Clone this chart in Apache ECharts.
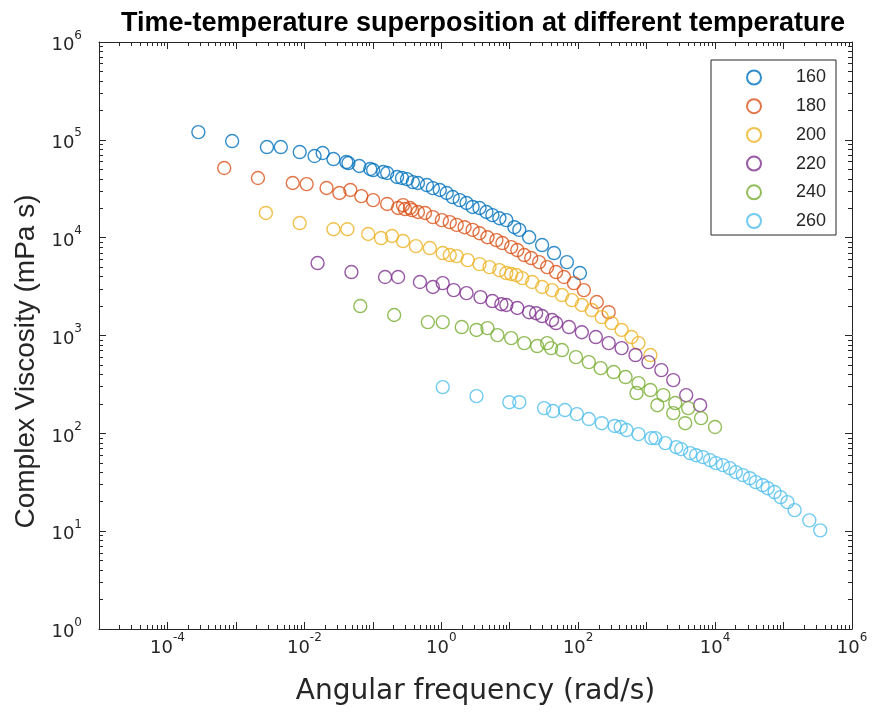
<!DOCTYPE html>
<html>
<head>
<meta charset="utf-8">
<script src="https://cdn.jsdelivr.net/npm/echarts@6.0.0/dist/echarts.min.js"></script>
<style>
html,body{margin:0;padding:0;background:#fff;}
#chart{width:875px;height:717px;}
</style>
</head>
<body>
<div id="chart"></div>
<script>
// ---- data (angular frequency in rad/s, complex viscosity in mPa s) ----
const seriesNames = ['160', '180', '200', '220', '240', '260'];
const colors = ['#0072BD', '#D95319', '#EDB120', '#7E2F8E', '#77AC30', '#4DBEEE'];

const w160 = [2.83e-4, 8.81e-4, 2.84e-3, 4.53e-3, 8.55e-3, 0.0141, 0.0185, 0.0266, 0.0411, 0.0440, 0.0635, 0.0917, 0.101, 0.142, 0.162, 0.226, 0.267, 0.316, 0.385, 0.456, 0.617, 0.754, 0.951, 1.20, 1.47, 1.86, 2.34, 2.87, 3.62, 4.57, 5.58, 7.06, 8.93, 11.7, 13.8, 19.2, 29.7, 44.4, 68.5, 106];
const eta160 = [1.20e5, 9.72e4, 8.44e4, 8.44e4, 7.50e4, 6.83e4, 7.33e4, 6.36e4, 5.93e4, 5.79e4, 5.40e4, 5.03e4, 4.91e4, 4.69e4, 4.58e4, 4.17e4, 4.07e4, 3.97e4, 3.70e4, 3.62e4, 3.45e4, 3.21e4, 3.07e4, 2.86e4, 2.60e4, 2.42e4, 2.26e4, 2.06e4, 2.01e4, 1.83e4, 1.70e4, 1.58e4, 1.51e4, 1.28e4, 1.20e4, 1.01e4, 8.40e3, 6.96e3, 5.63e3, 4.35e3];

const w180 = [6.75e-4, 2.10e-3, 6.76e-3, 0.0108, 0.0211, 0.0325, 0.0470, 0.0679, 0.101, 0.162, 0.234, 0.276, 0.295, 0.349, 0.373, 0.456, 0.577, 0.754, 1.02, 1.33, 1.68, 2.19, 2.87, 3.62, 4.73, 6.39, 7.81, 10.5, 12.9, 16.3, 20.6, 26.9, 35.2, 47.5, 62.0, 86.7, 121, 187, 279];
const eta180 = [5.15e4, 4.07e4, 3.62e4, 3.53e4, 3.22e4, 2.86e4, 3.07e4, 2.66e4, 2.42e4, 2.21e4, 2.01e4, 2.15e4, 1.96e4, 2.01e4, 1.91e4, 1.83e4, 1.79e4, 1.62e4, 1.51e4, 1.44e4, 1.35e4, 1.28e4, 1.20e4, 1.11e4, 1.01e4, 9.44e3, 8.81e3, 8.01e3, 7.47e3, 6.64e3, 6.19e3, 5.63e3, 5.00e3, 4.45e3, 3.96e3, 3.43e3, 2.91e3, 2.20e3, 1.73e3];

const w200 = [2.74e-3, 8.55e-3, 0.0266, 0.0425, 0.0857, 0.132, 0.191, 0.276, 0.427, 0.681, 1.05, 1.33, 1.68, 2.43, 3.62, 5.06, 7.06, 8.93, 10.5, 12.5, 15.2, 21.3, 29.7, 41.5, 58.0, 81.1, 113, 158, 221, 308, 431, 601, 760, 1135];
const eta200 = [1.79e4, 1.41e4, 1.22e4, 1.22e4, 1.09e4, 9.91e3, 1.04e4, 9.23e3, 8.20e3, 7.83e3, 6.96e3, 6.64e3, 6.48e3, 5.90e3, 5.37e3, 5.00e3, 4.66e3, 4.35e3, 4.25e3, 4.15e3, 3.86e3, 3.52e3, 3.13e3, 2.91e3, 2.59e3, 2.30e3, 2.05e3, 1.82e3, 1.54e3, 1.34e3, 1.14e3, 964, 836, 631];

const w220 = [0.0156, 0.0487, 0.151, 0.234, 0.488, 0.754, 1.05, 1.52, 2.34, 3.74, 5.58, 7.55, 8.93, 12.9, 19.2, 24.3, 29.7, 41.5, 47.5, 73.3, 113, 181, 279, 431, 687, 1062, 1641, 2449, 3784, 6039];
const eta220 = [5.50e3, 4.45e3, 3.96e3, 3.96e3, 3.52e3, 3.13e3, 3.43e3, 2.91e3, 2.71e3, 2.47e3, 2.25e3, 2.09e3, 2.05e3, 1.91e3, 1.73e3, 1.69e3, 1.58e3, 1.44e3, 1.34e3, 1.22e3, 1.08e3, 964, 836, 743, 631, 535, 443, 350, 246, 194];

const w240 = [0.0656, 0.205, 0.637, 1.05, 1.99, 3.27, 4.73, 6.61, 10.5, 16.3, 25.2, 35.2, 40.2, 58.0, 92.7, 143, 213, 330, 492, 760, 711, 1135, 1754, 2618, 1435, 2449, 4046, 3656, 6237, 9977];
const eta240 = [2.00e3, 1.62e3, 1.37e3, 1.37e3, 1.22e3, 1.14e3, 1.19e3, 1.01e3, 940, 836, 780, 836, 743, 710, 601, 535, 464, 423, 376, 326, 258, 277, 246, 204, 194, 161, 181, 127, 143, 116];

const w260 = [1.05, 3.27, 9.86, 13.8, 31.8, 42.9, 64.1, 95.7, 143, 221, 341, 417, 509, 760, 1175, 1342, 1875, 2710, 3199, 4324, 5279, 6668, 8433, 1.03e4, 1.30e4, 1.64e4, 2.01e4, 2.54e4, 3.21e4, 3.93e4, 4.95e4, 5.86e4, 7.40e4, 9.04e4, 1.14e5, 1.45e5, 2.38e5, 3.44e5];
const eta260 = [297, 240, 208, 208, 181, 169, 173, 157, 140, 127, 119, 116, 108, 98.2, 89.3, 89.3, 79.4, 72.3, 68.9, 62.8, 59.8, 57.1, 53.2, 49.6, 47.3, 44.1, 40.1, 37.4, 34.8, 31.7, 29.5, 27.5, 25.1, 22.3, 19.8, 16.4, 12.9, 10.2];

// ---- axis ticks ----
const xMajorTicks = [1e-5, 1e-4, 1e-3, 1e-2, 1e-1, 1, 1e1, 1e2, 1e3, 1e4, 1e5, 1e6];
const xTickLabels = [1e-4, 1e-2, 1, 1e2, 1e4, 1e6];
const yMajorTicks = [1, 1e1, 1e2, 1e3, 1e4, 1e5, 1e6];
const yTickLabels = [1, 1e1, 1e2, 1e3, 1e4, 1e5, 1e6];
const minorMultipliers = [2, 3, 4, 5, 6, 7, 8, 9];

function minorTicks(majors) {
  const out = [];
  for (let i = 0; i < majors.length - 1; i++) {
    minorMultipliers.forEach(function (m) { out.push(majors[i] * m); });
  }
  return out;
}
const xMinorTicks = minorTicks(xMajorTicks);
const yMinorTicks = minorTicks(yMajorTicks);

const FONT = 'Liberation Sans, Arial, Helvetica, sans-serif';
const WIDEFONT = 'DejaVu Sans, Liberation Sans, sans-serif';
const AXC = '#262626';

function powLabel(v) {
  const e = Math.round(Math.log10(v));
  return '{b|10}{s|' + e + '}';
}
const richPow = {
  b: { fontSize: 18, fontFamily: WIDEFONT, color: AXC, verticalAlign: 'bottom', lineHeight: 25 },
  s: { fontSize: 12, fontFamily: WIDEFONT, color: AXC, verticalAlign: 'top', lineHeight: 25 }
};

function baseAxis(extra) {
  return Object.assign({
    type: 'log', logBase: 10,
    splitLine: { show: false },
    minorTick: { show: false },
    minorSplitLine: { show: false }
  }, extra);
}

const xAxes = [
  baseAxis({
    min: 1e-5, max: 1e6, position: 'bottom', gridIndex: 0,
    axisLine: { show: true, onZero: false, lineStyle: { color: AXC, width: 1 } },
    axisTick: { show: true, inside: true, length: 7, customValues: xMajorTicks, lineStyle: { color: AXC, width: 1 } },
    axisLabel: { show: true, customValues: xTickLabels, formatter: powLabel, rich: richPow, margin: 3 },
    name: 'Angular frequency (rad/s)', nameLocation: 'middle', nameGap: 49,
    nameTextStyle: { fontSize: 28, color: AXC, fontFamily: WIDEFONT }
  }),
  baseAxis({
    min: 1e-5, max: 1e6, position: 'bottom', gridIndex: 0,
    axisLine: { show: false },
    axisTick: { show: true, inside: true, length: 4, customValues: xMinorTicks, lineStyle: { color: AXC, width: 1 } },
    axisLabel: { show: false }
  }),
  baseAxis({
    min: 1e-5, max: 1e6, position: 'top', gridIndex: 0,
    axisLine: { show: true, onZero: false, lineStyle: { color: AXC, width: 1 } },
    axisTick: { show: true, inside: true, length: 7, customValues: xMajorTicks, lineStyle: { color: AXC, width: 1 } },
    axisLabel: { show: false }
  }),
  baseAxis({
    min: 1e-5, max: 1e6, position: 'top', gridIndex: 0,
    axisLine: { show: false },
    axisTick: { show: true, inside: true, length: 4, customValues: xMinorTicks, lineStyle: { color: AXC, width: 1 } },
    axisLabel: { show: false }
  })
];

const yAxes = [
  baseAxis({
    min: 1, max: 1e6, position: 'left', gridIndex: 0,
    axisLine: { show: true, onZero: false, lineStyle: { color: AXC, width: 1 } },
    axisTick: { show: true, inside: true, length: 7, customValues: yMajorTicks, lineStyle: { color: AXC, width: 1 } },
    axisLabel: { show: true, customValues: yTickLabels, formatter: powLabel, rich: richPow, margin: 17 },
    name: 'Complex Viscosity (mPa s)', nameLocation: 'middle', nameGap: 52,
    nameTextStyle: { fontSize: 28, color: AXC, fontFamily: FONT, padding: [0, 52, 0, 0] }
  }),
  baseAxis({
    min: 1, max: 1e6, position: 'left', gridIndex: 0,
    axisLine: { show: false },
    axisTick: { show: true, inside: true, length: 4, customValues: yMinorTicks, lineStyle: { color: AXC, width: 1 } },
    axisLabel: { show: false }
  }),
  baseAxis({
    min: 1, max: 1e6, position: 'right', gridIndex: 0,
    axisLine: { show: true, onZero: false, lineStyle: { color: AXC, width: 1 } },
    axisTick: { show: true, inside: true, length: 7, customValues: yMajorTicks, lineStyle: { color: AXC, width: 1 } },
    axisLabel: { show: false }
  }),
  baseAxis({
    min: 1, max: 1e6, position: 'right', gridIndex: 0,
    axisLine: { show: false },
    axisTick: { show: true, inside: true, length: 4, customValues: yMinorTicks, lineStyle: { color: AXC, width: 1 } },
    axisLabel: { show: false }
  })
];

const xs = [w160, w180, w200, w220, w240, w260];
const ys = [eta160, eta180, eta200, eta220, eta240, eta260];

const series = seriesNames.map(function (name, i) {
  return {
    name: name,
    type: 'scatter',
    xAxisIndex: 0,
    yAxisIndex: 0,
    symbol: 'circle',
    symbolSize: 13,
    itemStyle: { color: 'rgba(255,255,255,0)', borderColor: colors[i], borderWidth: 1.4 },
    emphasis: { disabled: true },
    data: xs[i].map(function (x, k) { return [x, ys[i][k]]; })
  };
});

const chart = echarts.init(document.getElementById('chart'), null, { renderer: 'canvas' });
chart.setOption({
  animation: false,
  backgroundColor: '#ffffff',
  title: {
    text: 'Time-temperature superposition at different temperature',
    left: 478, top: 5, textAlign: 'center',
    textStyle: { fontSize: 27, fontWeight: 'bold', color: '#000000', fontFamily: FONT }
  },
  grid: { left: 99, top: 42, width: 753, height: 587, containLabel: false },
  xAxis: xAxes,
  yAxis: yAxes,
  legend: {
    orient: 'vertical',
    left: 711, top: 60,
    padding: [8.5, 10, 5, 35],
    itemGap: 10.7,
    itemWidth: 14, itemHeight: 14,
    backgroundColor: '#ffffff',
    borderColor: AXC, borderWidth: 1,
    data: seriesNames,
    formatter: function (n) { return '{t|' + n + '}'; },
    textStyle: {
      rich: { t: { width: 60, align: 'right', fontSize: 18, lineHeight: 18, color: AXC, fontFamily: FONT } }
    }
  },
  series: series
});
</script>
</body>
</html>
